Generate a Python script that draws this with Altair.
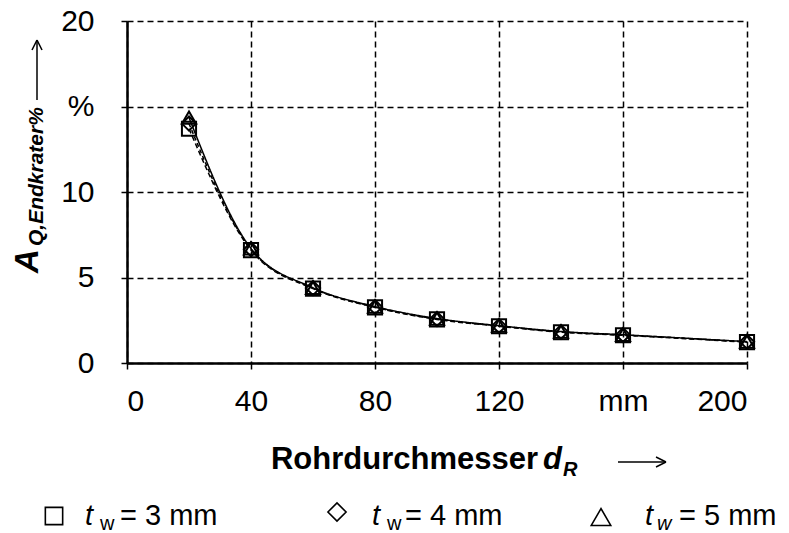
import altair as alt
import pandas as pd

# ---- data ----
diam = [20, 40, 60, 80, 100, 120, 140, 160, 200]
tw3 = [13.7, 6.6, 4.35, 3.25, 2.55, 2.15, 1.80, 1.62, 1.22]
tw4 = [14.0, 6.65, 4.38, 3.27, 2.57, 2.17, 1.82, 1.64, 1.24]
tw5 = [14.35, 6.7, 4.40, 3.30, 2.60, 2.18, 1.84, 1.65, 1.25]
series_names = ["3 mm", "4 mm", "5 mm"]
x_ticks = [0, 40, 80, 120, 160, 200]
y_ticks = [0, 5, 10, 15, 20]

rows = []
for name, vals in zip(series_names, [tw3, tw4, tw5]):
    for d, v in zip(diam, vals):
        rows.append({"d": d, "A": v, "s": name})
df = pd.DataFrame(rows)

FONT = "Liberation Sans"

xenc = alt.X("d:Q", scale=alt.Scale(domain=[0, 200], nice=False),
             axis=alt.Axis(values=x_ticks, title=None,
                           labelExpr="datum.value == 160 ? 'mm' : datum.label"))
yenc = alt.Y("A:Q", scale=alt.Scale(domain=[0, 20], nice=False),
             axis=alt.Axis(values=y_ticks, title=None,
                           labelExpr="datum.value == 15 ? '%' : datum.label"))

lines = alt.Chart(df).mark_line(interpolate="monotone", color="black", strokeWidth=1.5).encode(
    x=xenc, y=yenc,
    detail="s:N",
    strokeDash=alt.StrokeDash("s:N", scale=alt.Scale(domain=series_names,
                              range=[[5, 3], [4, 3], [1, 0]]), legend=None),
)

points = alt.Chart(df).mark_point(filled=False, color="black", strokeWidth=2, size=200, opacity=1).encode(
    x="d:Q", y="A:Q",
    shape=alt.Shape("s:N", scale=alt.Scale(domain=series_names,
                    range=["square", "diamond", "triangle-up"]), legend=None),
)


def one(label):
    return pd.DataFrame({"t": [label]})


def txt(label, x, y, size=29, weight="normal", style="normal", angle=0, align="left",
        baseline="middle", font=FONT):
    return alt.Chart(one(label)).mark_text(
        font=font, fontSize=size, fontWeight=weight, fontStyle=style, angle=angle,
        align=align, baseline=baseline, color="black"
    ).encode(text="t:N", x=alt.value(x), y=alt.value(y))


def sym(shape, x, y, size):
    return alt.Chart(one(shape)).mark_point(
        filled=False, color="black", strokeWidth=1.6, size=size, opacity=1, shape=shape
    ).encode(x=alt.value(x), y=alt.value(y))


def seg(x1, y1, x2, y2):
    return alt.Chart(one("seg")).mark_rule(color="black", strokeWidth=1.5).encode(
        x=alt.value(x1), y=alt.value(y1), x2=alt.value(x2), y2=alt.value(y2))


annots = [
    # y-axis title
    txt("A", -99, 240, size=33, weight="bold", style="italic", angle=270, align="center"),
    txt("Q,Endkrater%", -90, 225, size=21, weight="bold", style="italic", angle=270, align="left"),
    seg(-90, 19, -90, 79), seg(-90, 19, -95, 29), seg(-90, 19, -85, 29),
    # x-axis title
    txt("Rohrdurchmesser", 411, 439, size=31, weight="bold", align="right"),
    txt("d", 416, 439, size=31, weight="bold", style="italic"),
    txt("R", 436, 449, size=20, weight="bold", style="italic"),
    seg(491, 441, 539, 441), seg(539, 441, 529, 436), seg(539, 441, 529, 446),
    # legend
    sym("square", -73, 495, 300),
    txt("t", -42, 495, style="italic"),
    txt("w", -27, 503, size=20),
    txt("= 3 mm", -7, 495),
    sym("diamond", 210, 491, 330),
    txt("t", 245, 495, style="italic"),
    txt("w", 260, 503, size=20),
    txt("= 4 mm", 278, 495),
    sym("triangle-up", 474, 496, 380),
    txt("t", 518, 495, style="italic"),
    txt("w", 530, 503, size=20, style="italic"),
    txt("= 5 mm", 552, 495),
]

chart = alt.layer(lines, points, *annots).properties(
    width=620, height=342,
    autosize=alt.AutoSizeParams(type="none"),
    padding={"left": 119, "top": 13, "right": 34, "bottom": 170},
).configure_view(strokeWidth=0).configure_axis(
    domainColor="black", domainWidth=2.5,
    tickColor="black", tickWidth=1.5, tickSize=6,
    labelFont=FONT, labelFontSize=30, labelColor="black",
    grid=True, gridColor="black", gridDash=[6, 4], gridWidth=1.5, gridOpacity=1,
).configure_axisY(labelPadding=27).configure_axisX(labelPadding=17)

chart.save("out.html", embed_options={"renderer": "svg", "actions": False})
